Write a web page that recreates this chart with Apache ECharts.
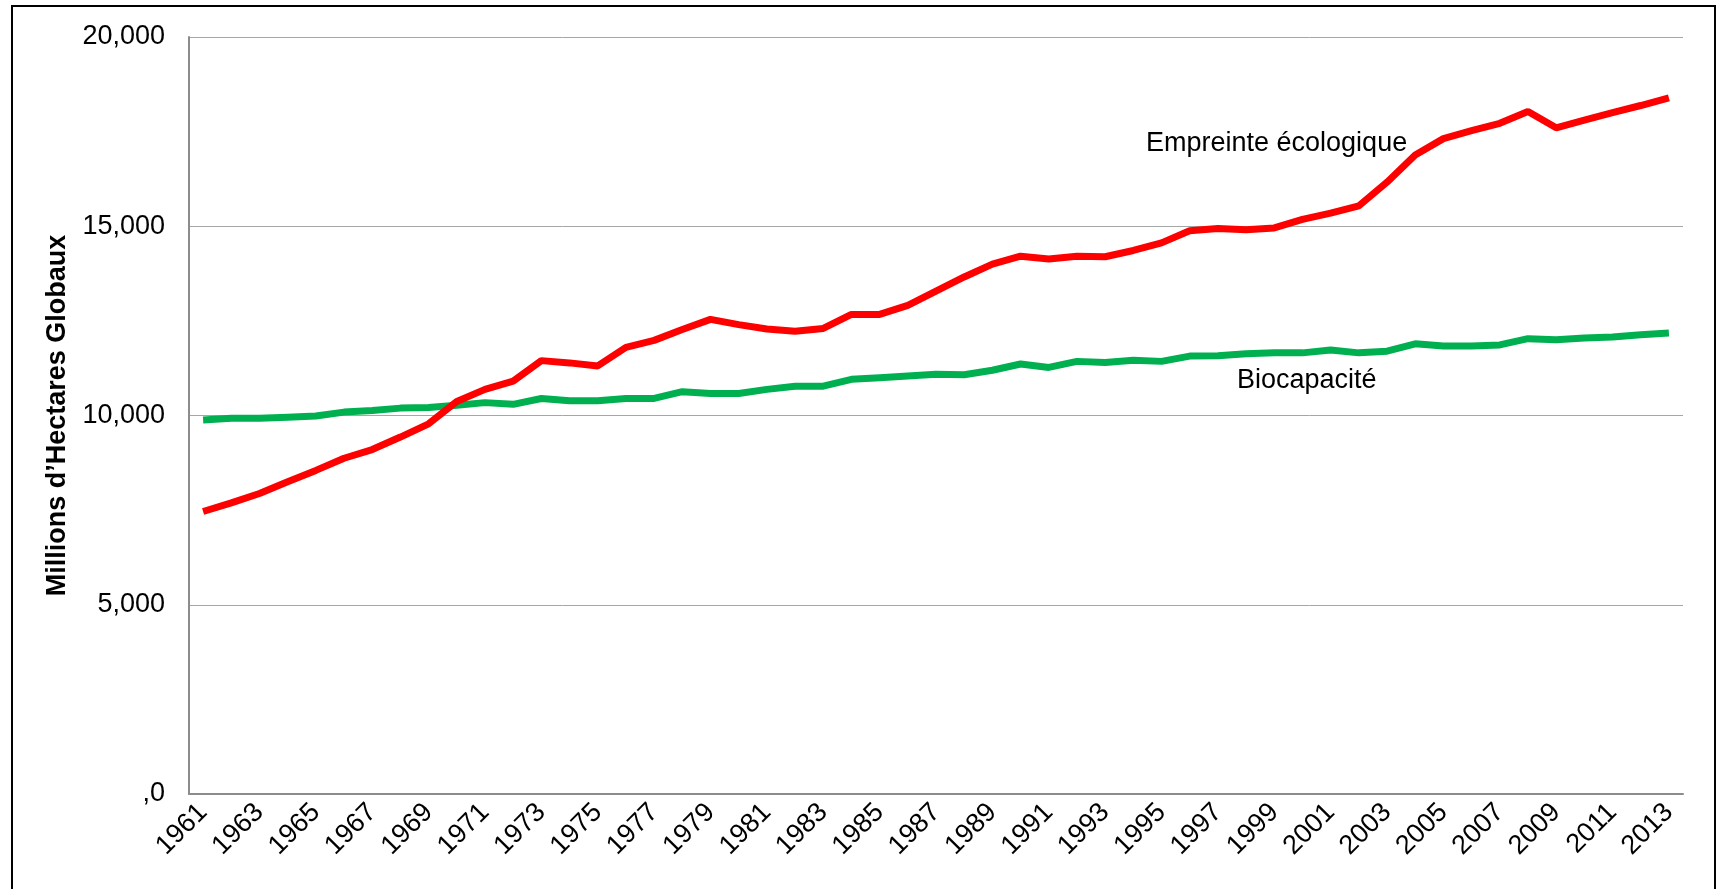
<!DOCTYPE html>
<html lang="fr">
<head>
	<meta charset="UTF-8">
	<title>Empreinte écologique et biocapacité</title>
	<script src="https://cdn.jsdelivr.net/npm/echarts@6/dist/echarts.min.js"></script>
	<style>
		html, body { margin: 0; padding: 0; background: #fff; }
		#chart { width: 1720px; height: 889px; }
	</style>
</head>
<body>
	<div id="chart"></div>
	<script type="text/javascript">

		const years = [];
		for (let y = 1961; y <= 2013; y++) years.push(String(y));

		// Empreinte écologique (millions d'hectares globaux)
		const empreinte = [
			7463, 7690, 7940, 8250, 8550, 8870, 9100, 9430, 9780, 10370,
			10690, 10910, 11450, 11390, 11310, 11800, 11985, 12270, 12540, 12400,
			12285, 12225, 12300, 12670, 12670, 12910, 13285, 13660, 14000, 14210,
			14135, 14210, 14195, 14360, 14560, 14880, 14940, 14910, 14955, 15180,
			15345, 15540, 16165, 16880, 17315, 17525, 17720, 18030, 17600, 17805,
			18000, 18190, 18390
		];

		// Biocapacité
		const biocapacite = [
			9880, 9925, 9925, 9955, 9985, 10090, 10135, 10195, 10210, 10270,
			10340, 10295, 10450, 10390, 10390, 10450, 10450, 10630, 10580, 10580,
			10690, 10775, 10775, 10955, 11000, 11045, 11090, 11075, 11195, 11360,
			11270, 11430, 11400, 11460, 11430, 11570, 11580, 11630, 11655, 11655,
			11730, 11655, 11700, 11895, 11835, 11835, 11865, 12030, 12000, 12045,
			12075, 12135, 12180
		];

		const font = 'Liberation Sans, Arial, sans-serif';

		const chart = echarts.init(document.getElementById('chart'));

		chart.setOption({
			animation: false,
			backgroundColor: '#fff',
			grid: { left: 189, right: 37, top: 37, bottom: 95 },
			xAxis: {
				type: 'category',
				data: years,
				boundaryGap: true,
				axisLine: { lineStyle: { color: '#8c8c8c', width: 2 } },
				axisTick: { show: false },
				axisLabel: {
					interval: 1,
					rotate: 45,
					margin: 14,
					color: '#000',
					fontFamily: font,
					fontSize: 27
				},
				splitLine: { show: false }
			},
			yAxis: {
				type: 'value',
				min: 0,
				max: 20000,
				interval: 5000,
				name: 'Millions d\u2019Hectares Globaux',
				nameLocation: 'middle',
				nameGap: 101,
				nameTextStyle: {
					color: '#000',
					fontFamily: font,
					fontWeight: 'bold',
					fontSize: 27
				},
				axisLine: { show: true, lineStyle: { color: '#8c8c8c', width: 2 } },
				axisTick: { show: false },
				axisLabel: {
					margin: 24,
					color: '#000',
					fontFamily: font,
					fontSize: 27,
					formatter: v => v === 0 ? ',0' : v.toLocaleString('en-US')
				},
				splitLine: { lineStyle: { color: '#a6a6a6', width: 1 } }
			},
			series: [{
				name: 'Empreinte écologique',
				type: 'line',
				data: empreinte,
				symbol: 'none',
				lineStyle: { color: '#ff0000', width: 7 },
				z: 3
			}, {
				name: 'Biocapacité',
				type: 'line',
				data: biocapacite,
				symbol: 'none',
				lineStyle: { color: '#00b050', width: 7 },
				z: 2
			}],
			graphic: [{
				type: 'rect',
				shape: { x: 12, y: 6, width: 1703, height: 900 },
				style: { fill: 'none', stroke: '#000', lineWidth: 2 },
				silent: true
			}, {
				type: 'text',
				x: 1146,
				y: 144,
				style: {
					text: 'Empreinte écologique',
					fill: '#000',
					font: '27px "Liberation Sans", Arial, sans-serif',
					verticalAlign: 'middle'
				}
			}, {
				type: 'text',
				x: 1237,
				y: 381,
				style: {
					text: 'Biocapacité',
					fill: '#000',
					font: '27px "Liberation Sans", Arial, sans-serif',
					verticalAlign: 'middle'
				}
			}]
		});
	</script>
</body>
</html>
